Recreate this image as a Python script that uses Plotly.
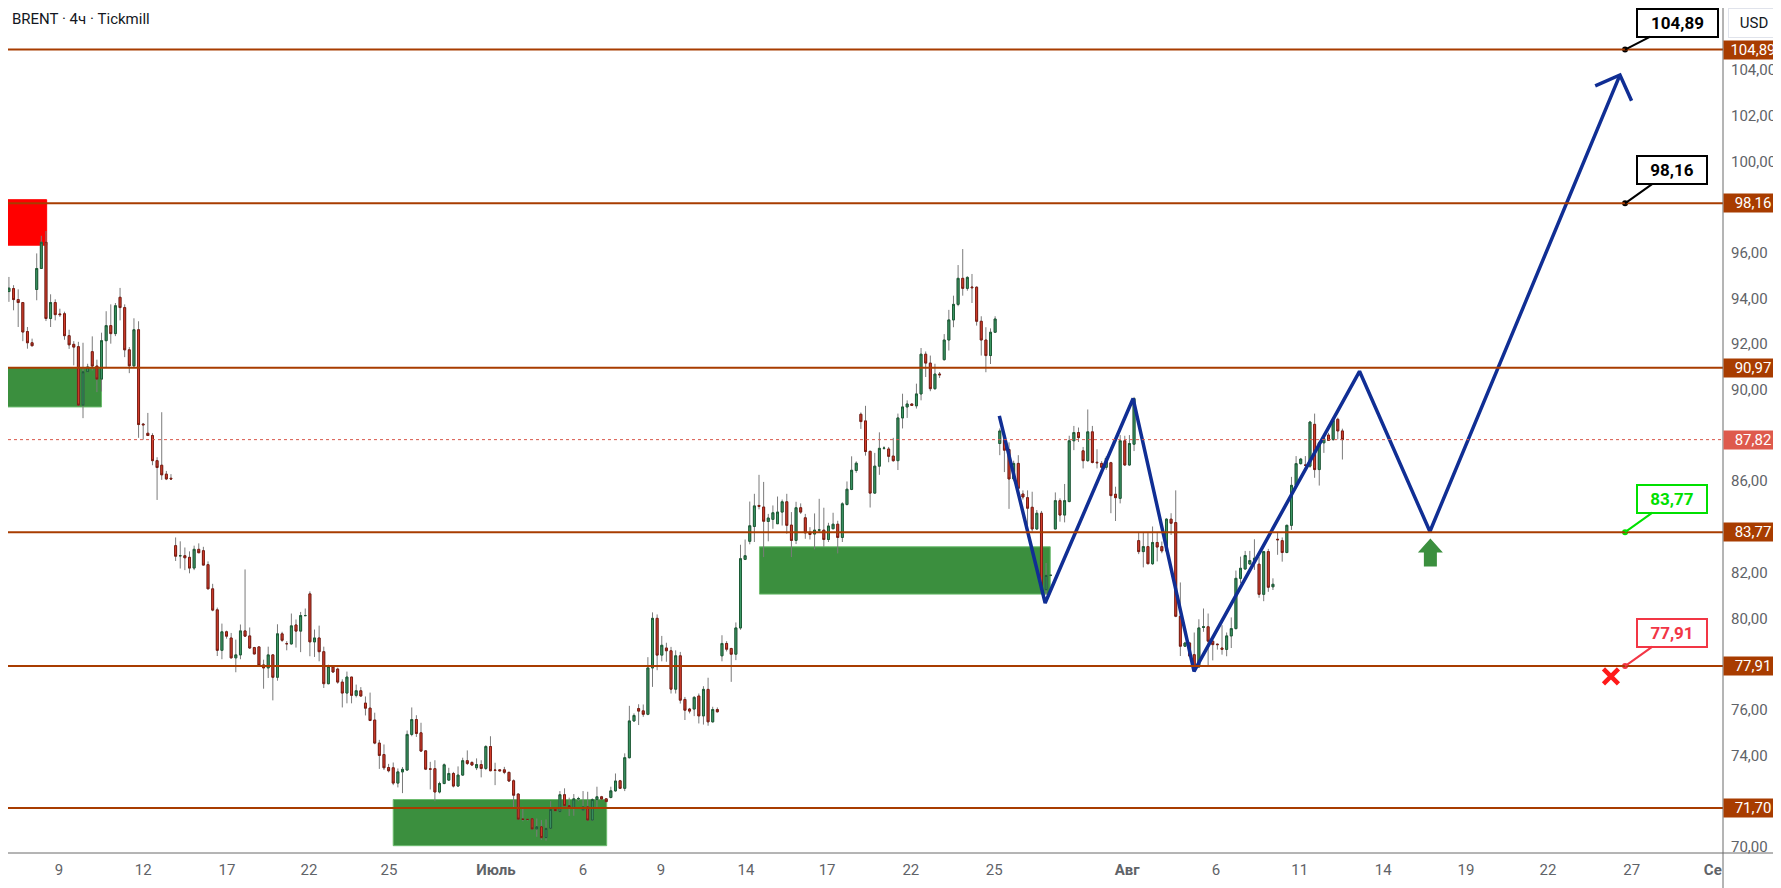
import plotly.graph_objects as go

# 4h candles (one entry per bar)
opens = [
    94.39, 94.30, 94.43, 93.95, 93.82, 92.55, 92.06, 94.39, 95.31, 96.46,
    93.12, 93.82, 93.32, 93.33, 92.37, 91.99, 91.89, 89.33, 90.79, 91.67,
    91.04, 90.47, 92.15, 92.81, 92.46, 94.05, 93.60, 91.75, 91.05, 92.63,
    88.50, 88.10, 88.00, 86.90, 86.70, 86.31, 86.13, 83.18, 82.74, 82.74,
    82.67, 82.20, 83.02, 82.96, 82.35, 81.29, 80.37, 78.60, 79.41, 79.14,
    78.27, 78.40, 79.45, 79.23, 78.72, 78.75, 77.96, 77.83, 78.40, 77.42,
    79.32, 78.89, 78.88, 79.71, 79.44, 80.12, 81.07, 78.97, 79.14, 78.54,
    77.14, 77.87, 77.78, 77.21, 76.73, 77.43, 76.63, 76.83, 76.29, 76.07,
    75.55, 74.54, 74.04, 73.47, 73.46, 72.79, 73.28, 73.36, 74.92, 75.57,
    74.99, 74.20, 73.41, 73.42, 72.40, 72.77, 72.92, 73.21, 72.66, 73.14,
    73.77, 73.69, 73.46, 73.60, 73.43, 74.39, 73.36, 73.37, 73.37, 73.26,
    72.89, 72.31, 71.22, 71.20, 71.23, 70.78, 70.88, 70.40, 70.81, 71.64,
    71.54, 72.28, 71.80, 71.71, 72.10, 71.61, 71.75, 71.17, 72.07, 72.19,
    72.10, 72.16, 72.45, 72.89, 72.56, 73.90, 75.51, 76.05, 75.95, 75.80,
    77.83, 80.00, 78.39, 78.70, 78.58, 76.90, 78.36, 76.45, 76.03, 76.03,
    76.60, 75.73, 76.89, 75.47, 76.01, 78.36, 78.90, 78.68, 78.43, 79.58,
    82.58, 83.37, 84.02, 84.94, 84.87, 84.24, 84.33, 84.14, 84.65, 85.10,
    84.08, 83.41, 84.84, 84.40, 83.77, 83.69, 83.86, 83.86, 83.45, 83.92,
    84.12, 83.54, 84.98, 85.64, 86.47, 88.93, 88.64, 87.31, 85.48, 86.66,
    87.44, 87.41, 87.10, 86.90, 88.77, 89.25, 89.38, 89.30, 89.82, 91.56,
    91.17, 90.05, 90.69, 91.32, 92.18, 93.06, 93.74, 94.88, 94.44, 94.50,
    94.49, 93.00, 92.18, 91.50, 92.52, 87.65, 87.80, 87.39, 86.10, 86.78,
    85.44, 85.28, 84.86, 83.91, 84.60, 81.25, 81.88, 83.91, 85.15, 84.52,
    85.11, 87.77, 88.13, 87.33, 86.90, 88.16, 86.83, 86.78, 86.61, 86.81,
    85.43, 85.25, 87.77, 86.71, 87.62, 83.40, 82.92, 83.14, 82.39, 83.32,
    83.14, 82.95, 84.34, 84.19, 80.09, 78.78, 78.92, 78.41, 77.87, 79.60,
    79.63, 79.00, 78.87, 78.70, 78.64, 79.23, 79.55, 81.75, 82.16, 82.38,
    82.53, 82.37, 81.05, 82.92, 81.38, 83.46, 83.40, 82.88, 84.07, 85.82,
    86.77, 86.70, 86.66, 88.49, 86.51, 87.68, 88.02, 87.83, 88.71, 88.20,
]
highs = [
    94.42, 94.94, 94.58, 94.40, 93.84, 92.75, 92.24, 95.97, 96.74, 96.95,
    94.18, 93.96, 93.55, 93.42, 92.63, 92.13, 92.10, 92.06, 91.14, 92.34,
    91.32, 92.50, 93.44, 93.74, 93.80, 94.46, 93.74, 91.87, 93.13, 93.00,
    88.55, 88.99, 88.10, 87.05, 89.02, 86.45, 86.31, 83.54, 83.37, 83.10,
    82.93, 83.18, 83.28, 83.13, 82.49, 81.51, 80.47, 79.77, 79.46, 79.36,
    79.07, 79.73, 82.14, 79.60, 78.75, 78.75, 78.19, 78.76, 78.44, 79.74,
    79.41, 79.00, 80.21, 79.95, 80.28, 80.43, 81.18, 79.51, 79.68, 78.76,
    77.97, 77.92, 77.84, 77.33, 77.67, 77.43, 77.10, 76.99, 76.58, 76.75,
    75.87, 74.68, 74.48, 73.63, 73.69, 73.43, 73.49, 75.09, 76.10, 75.76,
    75.43, 74.23, 73.72, 73.79, 72.85, 73.65, 73.46, 73.28, 73.52, 73.90,
    74.22, 73.75, 73.87, 73.79, 74.45, 74.84, 73.68, 73.40, 73.50, 73.28,
    72.95, 72.34, 71.75, 71.22, 71.23, 71.24, 71.17, 71.20, 72.00, 71.66,
    72.44, 72.56, 72.15, 72.31, 72.19, 72.44, 72.41, 72.12, 72.63, 72.23,
    72.12, 72.63, 73.21, 72.93, 74.09, 76.17, 75.84, 76.24, 76.23, 78.30,
    80.26, 80.17, 79.23, 78.93, 78.75, 78.60, 78.53, 76.56, 76.08, 76.60,
    76.71, 77.03, 77.40, 76.13, 76.10, 79.26, 79.00, 78.71, 79.82, 83.22,
    83.45, 85.11, 85.45, 86.28, 85.97, 84.57, 84.94, 85.33, 85.20, 85.45,
    84.65, 85.10, 85.03, 84.57, 83.99, 84.59, 85.23, 84.84, 84.18, 84.62,
    84.27, 85.08, 85.99, 87.09, 86.87, 89.01, 89.30, 87.31, 87.24, 88.14,
    87.53, 87.50, 87.90, 88.96, 89.83, 89.54, 89.40, 90.27, 91.83, 91.68,
    91.50, 91.14, 90.78, 92.44, 93.50, 94.12, 95.46, 96.16, 94.97, 95.07,
    94.53, 93.22, 92.74, 92.69, 93.22, 88.31, 87.90, 87.70, 86.90, 87.14,
    85.60, 85.60, 85.54, 84.74, 84.70, 82.42, 81.92, 85.51, 85.25, 85.88,
    87.99, 88.42, 88.35, 87.50, 89.14, 88.42, 87.40, 86.88, 87.10, 86.85,
    85.76, 88.02, 87.99, 88.02, 89.69, 83.77, 83.77, 83.77, 84.02, 83.77,
    83.36, 84.38, 84.60, 85.60, 81.57, 78.97, 78.97, 79.38, 79.96, 80.43,
    80.21, 79.04, 78.89, 79.70, 79.38, 80.04, 82.09, 82.70, 82.95, 82.95,
    83.46, 82.70, 82.95, 83.04, 81.75, 83.77, 83.54, 84.10, 86.19, 87.10,
    87.02, 87.10, 88.64, 88.96, 87.76, 87.90, 88.12, 88.78, 88.78, 88.30,
]
lows = [
    94.22, 93.85, 93.48, 92.75, 92.13, 91.80, 91.90, 93.92, 95.29, 93.01,
    92.75, 93.04, 93.19, 92.19, 91.79, 91.07, 89.32, 88.76, 90.76, 90.85,
    89.90, 89.93, 91.00, 92.02, 92.35, 93.04, 91.43, 90.73, 90.97, 87.90,
    87.82, 88.00, 86.70, 85.18, 86.06, 86.05, 86.06, 82.51, 82.18, 82.11,
    81.97, 82.11, 82.87, 82.33, 81.29, 80.31, 78.35, 78.21, 79.11, 78.24,
    77.64, 78.21, 79.19, 78.66, 78.43, 77.94, 76.92, 77.39, 76.41, 77.27,
    78.97, 78.60, 78.85, 78.72, 78.52, 80.10, 78.34, 78.31, 78.12, 76.95,
    77.11, 77.62, 77.14, 76.10, 76.28, 76.28, 76.54, 76.57, 75.75, 75.50,
    74.49, 73.41, 73.36, 73.26, 72.70, 72.60, 72.35, 73.34, 74.84, 74.81,
    74.16, 73.36, 72.51, 72.00, 72.34, 72.74, 72.88, 72.60, 72.63, 73.11,
    73.58, 73.55, 73.36, 73.04, 73.36, 73.31, 72.70, 73.30, 73.18, 72.85,
    71.68, 71.20, 71.12, 71.15, 70.76, 70.44, 70.30, 70.27, 70.78, 71.56,
    71.53, 71.78, 71.35, 71.36, 72.00, 71.57, 71.16, 71.16, 71.68, 72.05,
    71.95, 72.12, 72.41, 72.53, 72.44, 73.87, 75.47, 75.33, 75.69, 75.76,
    77.00, 77.73, 78.12, 78.10, 76.71, 76.71, 76.27, 75.55, 75.84, 75.72,
    75.40, 75.35, 75.30, 75.44, 75.88, 78.12, 78.55, 77.22, 78.17, 79.50,
    82.55, 83.24, 83.34, 84.77, 82.68, 83.37, 83.92, 84.14, 84.06, 83.70,
    82.68, 83.25, 84.57, 83.48, 83.45, 83.02, 83.77, 83.13, 83.34, 83.92,
    82.84, 83.34, 84.94, 85.61, 86.37, 88.29, 87.12, 84.85, 85.45, 86.28,
    87.38, 86.83, 86.85, 86.49, 88.31, 88.77, 89.30, 89.18, 89.54, 90.56,
    89.94, 90.00, 90.52, 91.28, 91.72, 92.74, 93.66, 94.12, 94.34, 93.80,
    92.81, 91.50, 90.77, 91.13, 92.49, 87.14, 86.40, 84.79, 86.00, 85.54,
    85.20, 84.09, 83.80, 83.87, 81.18, 81.03, 81.84, 83.91, 84.23, 84.20,
    85.08, 87.36, 87.72, 86.56, 86.85, 86.78, 86.56, 86.59, 86.50, 84.60,
    84.26, 85.03, 86.68, 86.68, 87.32, 82.81, 82.23, 82.37, 82.34, 82.49,
    82.85, 82.92, 83.65, 80.05, 78.35, 78.75, 78.31, 77.80, 77.85, 79.41,
    77.94, 78.16, 78.63, 78.41, 78.34, 78.70, 79.52, 81.53, 82.12, 82.33,
    82.12, 80.90, 80.75, 81.16, 81.24, 82.78, 82.48, 82.85, 83.87, 85.78,
    86.73, 86.66, 86.59, 86.15, 85.81, 87.24, 87.76, 87.76, 87.83, 86.95,
]
closes = [
    94.26, 94.45, 93.95, 93.82, 92.53, 92.06, 91.93, 95.31, 96.46, 93.12,
    93.82, 93.29, 93.29, 92.37, 91.97, 91.87, 89.33, 90.79, 91.00, 91.04,
    90.47, 92.15, 92.81, 92.46, 93.68, 93.60, 91.75, 91.05, 92.63, 88.48,
    88.47, 88.00, 86.90, 86.60, 86.28, 86.10, 86.10, 82.72, 82.74, 82.65,
    82.20, 83.02, 82.87, 82.33, 81.29, 80.36, 78.60, 79.41, 79.22, 78.27,
    78.40, 79.45, 79.22, 78.70, 78.44, 77.94, 77.83, 78.40, 77.42, 79.32,
    79.04, 78.89, 79.67, 79.44, 80.12, 80.12, 78.97, 79.14, 78.54, 77.14,
    77.89, 77.65, 77.21, 76.73, 77.43, 76.63, 76.83, 76.60, 76.07, 75.53,
    74.54, 74.00, 73.46, 73.33, 72.79, 73.28, 73.39, 74.92, 75.57, 74.96,
    74.19, 73.40, 73.40, 72.40, 72.77, 73.59, 73.21, 72.66, 73.14, 73.77,
    73.65, 73.58, 73.60, 73.43, 74.39, 73.33, 73.35, 73.33, 73.26, 72.88,
    72.26, 71.21, 71.20, 71.20, 70.78, 70.88, 70.40, 70.81, 71.64, 71.58,
    72.28, 71.80, 71.71, 72.10, 72.11, 71.75, 71.17, 72.07, 72.19, 72.09,
    71.98, 72.45, 72.88, 72.56, 73.90, 75.51, 75.75, 75.94, 75.80, 77.83,
    80.00, 78.39, 78.82, 78.58, 76.90, 78.36, 76.42, 75.98, 75.94, 76.54,
    75.73, 76.89, 75.47, 76.01, 75.91, 78.90, 78.65, 78.43, 79.58, 82.61,
    82.74, 84.05, 84.92, 84.90, 84.25, 84.39, 84.62, 84.65, 85.10, 84.07,
    83.41, 84.84, 84.65, 83.74, 83.67, 83.86, 83.87, 83.45, 84.04, 84.12,
    83.54, 85.01, 85.65, 86.48, 86.79, 88.61, 87.30, 85.48, 86.66, 87.44,
    87.45, 87.09, 86.90, 88.77, 89.25, 89.38, 89.32, 89.82, 91.56, 91.17,
    90.05, 90.69, 90.66, 92.18, 93.06, 93.74, 94.88, 94.44, 94.92, 94.47,
    93.00, 92.18, 91.50, 92.52, 93.10, 88.20, 87.36, 86.10, 86.78, 85.69,
    85.31, 84.82, 83.91, 84.60, 81.25, 81.88, 81.88, 85.15, 84.52, 85.15,
    87.77, 88.13, 87.91, 86.90, 88.16, 86.82, 86.81, 86.61, 87.00, 85.37,
    85.28, 87.77, 86.71, 87.65, 89.62, 82.92, 83.14, 82.39, 83.32, 83.12,
    82.95, 84.34, 84.16, 80.09, 78.78, 78.92, 78.35, 77.87, 79.58, 79.63,
    79.00, 78.85, 78.85, 78.64, 79.23, 79.55, 81.75, 82.19, 82.75, 82.53,
    82.63, 81.05, 82.92, 81.36, 81.49, 83.44, 82.88, 84.07, 85.82, 86.77,
    86.97, 86.70, 88.59, 86.51, 87.68, 87.86, 87.79, 88.66, 88.20, 87.82,
]

# date labels on the bar axis
tick_bars = [11.8, 30.0, 48.1, 65.8, 83.1, 106.2, 125.0, 141.8, 160.2, 177.7,
             195.8, 213.8, 242.5, 261.7, 279.8, 297.8, 315.7, 333.4, 351.5, 369.0]
tick_text = ["9", "12", "17", "22", "25", "<b>Июль</b>", "6", "9", "14", "17",
             "22", "25", "<b>Авг</b>", "6", "11", "14", "19", "22", "27", "<b>Се</b>"]

# price labels that are not hidden behind the value boxes
price_ticks = [70, 74, 76, 80, 82, 86, 90, 92, 94, 96, 100, 102, 104]

# horizontal levels
levels = [104.89, 98.16, 90.97, 83.77, 77.91, 71.70]
last_price = 87.82

# zones: red supply box and green demand boxes
zone_x0 = [-0.71, -0.71, 84.0, 163.1]
zone_x1 = [9.15, 21.0, 130.1, 225.9]
zone_lo = [96.33, 89.25, 70.05, 81.06]
zone_hi = [98.32, 90.97, 72.07, 83.13]
zone_col = ["#ff0000", "#3b8f3e", "#3b8f3e", "#3b8f3e"]

# projected path (blue zigzag) and arrow head
zig_bars = [214.9, 224.8, 243.8, 256.96, 292.7, 307.9, 348.95]
zig_prices = [88.86, 80.67, 89.62, 77.68, 90.81, 83.80, 103.78]
head_bars = [343.6, 348.95, 351.45]
head_prices = [103.30, 103.78, 102.65]

# targets / stop callouts
callout_bar = 350.05
callout_prices = [104.89, 98.16, 83.77, 77.91]
callout_colors = ["#000000", "#000000", "#00e000", "#f23645"]
stop_bar, stop_price = 347.0, 77.46
buy_bar, buy_price = 308.0, 83.49

LEVEL = "#a83c00"
BLUE = "#102e94"
WICK = "#7b7b7b"
GREEN = "#3b8f3e"


def comma(v):
    return f"{v:.2f}".replace(".", ",")


bars = list(range(len(closes)))
body_top = [max(o, c) for o, c in zip(opens, closes)]
body_bot = [min(o, c) for o, c in zip(opens, closes)]

fig = go.Figure()

# wicks (grey), then coloured bodies on top
fig.add_trace(go.Candlestick(
    x=bars, open=opens, high=highs, low=lows, close=closes,
    increasing=dict(line=dict(color=WICK, width=1), fillcolor=WICK),
    decreasing=dict(line=dict(color=WICK, width=1), fillcolor=WICK),
    hoverinfo="skip", showlegend=False))
fig.add_trace(go.Candlestick(
    x=bars, open=opens, high=body_top, low=body_bot, close=closes,
    increasing=dict(line=dict(color="#1c5c36", width=1), fillcolor="#3f9a68"),
    decreasing=dict(line=dict(color="#7d1c12", width=1), fillcolor="#d9402e"),
    hoverinfo="skip", showlegend=False))

fig.add_trace(go.Scatter(x=zig_bars, y=zig_prices, mode="lines",
                         line=dict(color=BLUE, width=3.5), hoverinfo="skip", showlegend=False))
fig.add_trace(go.Scatter(x=head_bars, y=head_prices, mode="lines",
                         line=dict(color=BLUE, width=3.5), hoverinfo="skip", showlegend=False))
fig.add_trace(go.Scatter(x=[stop_bar], y=[stop_price], mode="markers",
                         marker=dict(symbol="x-thin", size=15, line=dict(width=4.5, color="#ff1a1a")),
                         hoverinfo="skip", showlegend=False))

shapes = []
for x0, x1, lo, hi, col in zip(zone_x0, zone_x1, zone_lo, zone_hi, zone_col):
    edge = "#ff0000" if col == "#ff0000" else "#6cbc6e"
    shapes.append(dict(type="rect", xref="x", yref="y", x0=x0, x1=x1, y0=lo, y1=hi,
                       fillcolor=col, line=dict(color=edge, width=1), layer="below"))
shapes.append(dict(type="line", xref="paper", yref="y", x0=0, x1=1, y0=last_price, y1=last_price,
                   line=dict(color="#d9574b", width=1, dash="dot")))
for lv in levels:
    shapes.append(dict(type="line", xref="paper", yref="y", x0=0, x1=1, y0=lv, y1=lv,
                       line=dict(color=LEVEL, width=2)))
# green buy arrow under the projected low
shapes.append(dict(type="path", xref="x", yref="y", xsizemode="pixel", ysizemode="pixel",
                   xanchor=buy_bar, yanchor=buy_price,
                   path="M0,0 L12.5,-14 L6.5,-14 L6.5,-28 L-6.5,-28 L-6.5,-14 L-12.5,-14 Z",
                   fillcolor=GREEN, line=dict(width=0)))
# axis separator lines running into the margins
shapes.append(dict(type="line", xref="paper", yref="paper", x0=1, x1=1, y0=-0.05, y1=1,
                   line=dict(color="#6b6b6b", width=1)))
shapes.append(dict(type="line", xref="paper", yref="paper", x0=0, x1=1.04, y0=0, y1=0,
                   line=dict(color="#6b6b6b", width=1)))

annotations = [
    dict(xref="paper", yref="paper", x=0, y=1, xanchor="left", yanchor="middle",
         xshift=2, yshift=-11, showarrow=False, text="BRENT · 4ч · Tickmill",
         font=dict(size=15, color="#131722")),
    dict(xref="paper", yref="paper", x=1, y=1, xanchor="left", yanchor="top",
         xshift=5, yshift=0, showarrow=False, text="USD", width=48, height=26,
         bgcolor="white", bordercolor="#e0e3eb", borderwidth=1,
         font=dict(size=15, color="#131722")),
]
for lv in levels:
    annotations.append(dict(xref="paper", yref="y", x=1, y=lv, xanchor="left", yanchor="middle",
                            showarrow=False, text=comma(lv), width=58, height=18, borderpad=0,
                            bgcolor=LEVEL, font=dict(size=15, color="white")))
annotations.append(dict(xref="paper", yref="y", x=1, y=last_price, xanchor="left", yanchor="middle",
                        showarrow=False, text=comma(last_price), width=58, height=18, borderpad=0,
                        bgcolor="#de5a4d", font=dict(size=15, color="white")))
for p, col in zip(callout_prices, callout_colors):
    top = p >= 100
    annotations.append(dict(xref="x", yref="y", x=callout_bar, y=p, text="<b>%s</b>" % comma(p),
                            showarrow=True, ax=52.5 if top else 47, ay=-27 if top else -33.5,
                            arrowhead=0, arrowwidth=2, arrowcolor=col, standoff=0,
                            bgcolor="white", bordercolor=col, borderwidth=2, borderpad=4,
                            width=71 if top else 60, height=18, font=dict(size=17, color=col)))

fig.add_trace(go.Scatter(x=[callout_bar] * len(callout_prices), y=callout_prices, mode="markers",
                         marker=dict(size=6, color=callout_colors), hoverinfo="skip", showlegend=False))

# the page body has an 8px margin, so the figure is 8px smaller and the ranges start 8px in
fig.update_layout(
    width=1773, height=880, autosize=False,
    margin=dict(l=0, r=58, t=0, b=35),
    plot_bgcolor="white", paper_bgcolor="white",
    font=dict(family="Roboto", size=15, color="#5f6368"),
    separators=", ",
    boxgap=0.4,
    showlegend=False,
    shapes=shapes,
    annotations=annotations,
    xaxis=dict(range=[0.8, 371.2], rangeslider=dict(visible=False), showgrid=False,
               zeroline=False, showline=False, tickvals=tick_bars, ticktext=tick_text,
               ticks="", ticklabelstandoff=6, automargin=False,
               tickfont=dict(size=15, color="#5f6368")),
    yaxis=dict(range=[69.73, 106.71], side="right", showgrid=False, zeroline=False,
               showline=False, tickvals=price_ticks, tickformat=".2f",
               ticks="", ticklabelstandoff=7, automargin=False,
               tickfont=dict(size=15, color="#5f6368")),
)

fig.write_html("out.html")
